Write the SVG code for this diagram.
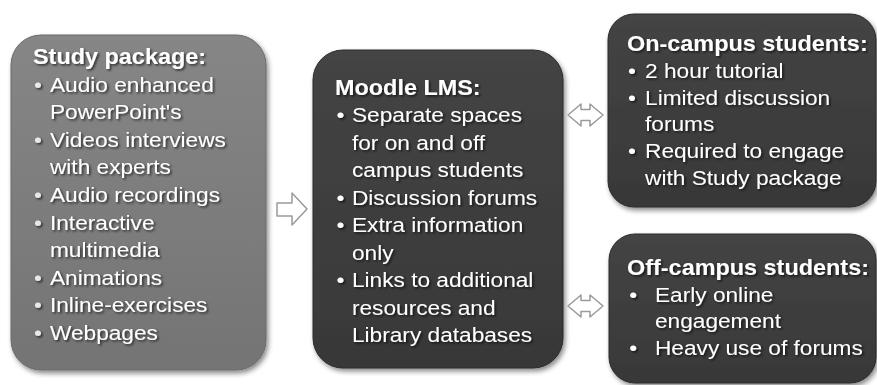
<svg xmlns="http://www.w3.org/2000/svg" width="877" height="385" viewBox="0 0 877 385">
<style>
.t{font-family:"Liberation Sans",Arial,sans-serif;font-size:21px;fill:#ffffff;filter:url(#ts)}
.h{font-weight:bold;font-size:21.5px}
.b{fill:#e8e8e8}
.box{filter:url(#bs)}
.arr{fill:#ffffff;stroke:#9a9a9a;stroke-width:1.5;stroke-linejoin:round}
</style>
<defs>
<filter id="ts" x="-10%" y="-30%" width="130%" height="170%">
<feDropShadow dx="1.5" dy="1.5" stdDeviation="0.8" flood-color="#000" flood-opacity="0.65"/>
</filter>
<filter id="bs" x="-10%" y="-10%" width="125%" height="125%">
<feDropShadow dx="2" dy="3" stdDeviation="2.5" flood-color="#000" flood-opacity="0.45"/>
</filter>
<linearGradient id="g1" x1="0" y1="0" x2="0" y2="1">
<stop offset="0" stop-color="#868686"/>
<stop offset="1" stop-color="#747474"/>
</linearGradient>
<linearGradient id="g2" x1="0" y1="0" x2="0" y2="1">
<stop offset="0" stop-color="#444444"/>
<stop offset="1" stop-color="#383838"/>
</linearGradient>
</defs>
<rect width="877" height="385" fill="#ffffff"/>

<g id="study-package">
<rect class="box" x="11" y="35" width="255" height="335" rx="30" fill="url(#g1)" stroke="#6a6a6a" stroke-width="1"/>
<g transform="translate(33,0) scale(1.09,1)">
<text class="t h" x="0" y="64">Study package:</text>
</g>
<g transform="translate(33,0) scale(1.08,1)">
<text class="t b" x="1" y="91.6">•</text><text class="t" x="15.7" y="91.6">Audio enhanced</text>
<text class="t" x="15.7" y="119.2">PowerPoint's</text>
<text class="t b" x="1" y="146.8">•</text><text class="t" x="15.7" y="146.8">Videos interviews</text>
<text class="t" x="15.7" y="174.4">with experts</text>
<text class="t b" x="1" y="202">•</text><text class="t" x="15.7" y="202">Audio recordings</text>
<text class="t b" x="1" y="229.6">•</text><text class="t" x="15.7" y="229.6">Interactive</text>
<text class="t" x="15.7" y="257.2">multimedia</text>
<text class="t b" x="1" y="284.8">•</text><text class="t" x="15.7" y="284.8">Animations</text>
<text class="t b" x="1" y="312.4">•</text><text class="t" x="15.7" y="312.4">Inline-exercises</text>
<text class="t b" x="1" y="340">•</text><text class="t" x="15.7" y="340">Webpages</text>
</g>
</g>

<g id="moodle-lms">
<rect class="box" x="313" y="50" width="250" height="318" rx="30" fill="url(#g2)" stroke="#2a2a2a" stroke-width="1"/>
<g transform="translate(335,0) scale(1.09,1)">
<text class="t h" x="0" y="95">Moodle LMS:</text>
</g>
<g transform="translate(335,0) scale(1.08,1)">
<text class="t" x="1.5" y="122.5">•</text><text class="t" x="15.7" y="122.5">Separate spaces</text>
<text class="t" x="15.7" y="150">for on and off</text>
<text class="t" x="15.7" y="177.5">campus students</text>
<text class="t" x="1.5" y="205">•</text><text class="t" x="15.7" y="205">Discussion forums</text>
<text class="t" x="1.5" y="232.5">•</text><text class="t" x="15.7" y="232.5">Extra information</text>
<text class="t" x="15.7" y="260">only</text>
<text class="t" x="1.5" y="287.5">•</text><text class="t" x="15.7" y="287.5">Links to additional</text>
<text class="t" x="15.7" y="315">resources and</text>
<text class="t" x="15.7" y="342.5">Library databases</text>
</g>
</g>

<g id="on-campus">
<rect class="box" x="608" y="14" width="268" height="193" rx="26" fill="url(#g2)" stroke="#2a2a2a" stroke-width="1"/>
<g transform="translate(627,0) scale(1.09,1)">
<text class="t h" x="0" y="51">On-campus students:</text>
</g>
<g transform="translate(627,0) scale(1.08,1)">
<text class="t" x="1" y="78">•</text><text class="t" x="16.7" y="78">2 hour tutorial</text>
<text class="t" x="1" y="104.7">•</text><text class="t" x="16.7" y="104.7">Limited discussion</text>
<text class="t" x="16.7" y="131.4">forums</text>
<text class="t" x="1" y="158.1">•</text><text class="t" x="16.7" y="158.1">Required to engage</text>
<text class="t" x="16.7" y="184.8">with Study package</text>
</g>
</g>

<g id="off-campus">
<rect class="box" x="609" y="234" width="267" height="149" rx="26" fill="url(#g2)" stroke="#2a2a2a" stroke-width="1"/>
<g transform="translate(627,0) scale(1.09,1)">
<text class="t h" x="0" y="275">Off-campus students:</text>
</g>
<g transform="translate(627,0) scale(1.08,1)">
<text class="t" x="2" y="302">•</text><text class="t" x="25.9" y="302">Early online</text>
<text class="t" x="25.9" y="328.5">engagement</text>
<text class="t" x="2" y="355">•</text><text class="t" x="25.9" y="355">Heavy use of forums</text>
</g>
</g>

<g id="connectors">
<polygon class="arr" points="277,203 292,203 292,193 307,209 292,225 292,216 277,216"/>
<polygon class="arr" points="568,115 581,104 581,109.5 590,109.5 590,104 603,115 590,126 590,120.5 581,120.5 581,126"/>
<polygon class="arr" points="568,306 581,295 581,300.5 590,300.5 590,295 603,306 590,317 590,311.5 581,311.5 581,317"/>
</g>
</svg>
